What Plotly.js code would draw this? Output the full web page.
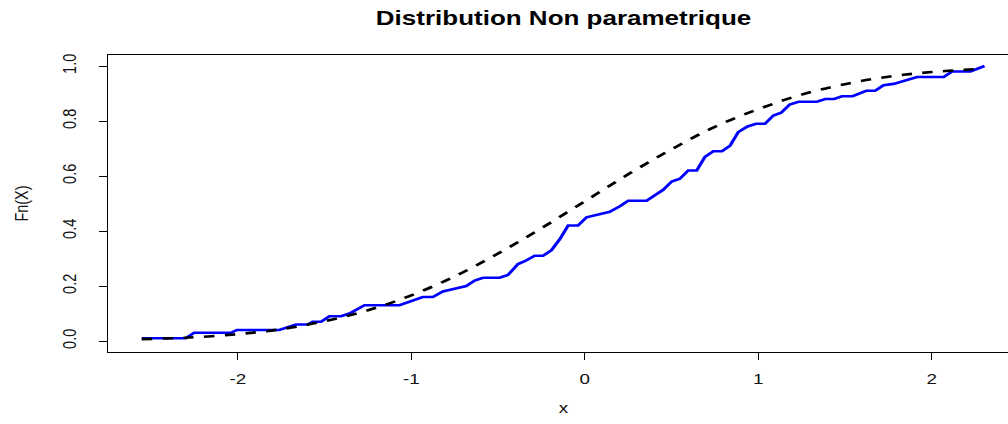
<!DOCTYPE html>
<html>
<head>
<meta charset="utf-8">
<script src="https://cdn.plot.ly/plotly-3.0.1.min.js"></script>
<style>
  html, body { margin: 0; padding: 0; overflow: hidden; background: #fff; width: 1008px; height: 424px; }
  #chart { width: 792px; height: 424px; transform: scaleX(1.3); transform-origin: 0 0; }
</style>
</head>
<body>
<div id="chart"></div>
<script>
const ecdfX = [-2.554,-2.300,-2.252,-2.040,-2.005,-1.761,-1.665,-1.598,-1.569,-1.520,-1.472,-1.405,-1.357,-1.328,-1.270,-1.068,-0.982,-0.934,-0.876,-0.818,-0.751,-0.683,-0.635,-0.587,-0.491,-0.443,-0.385,-0.346,-0.289,-0.241,-0.192,-0.144,-0.096,-0.039,0.010,0.087,0.144,0.202,0.250,0.356,0.404,0.452,0.501,0.548,0.596,0.645,0.693,0.741,0.791,0.837,0.885,0.938,0.987,1.039,1.087,1.132,1.181,1.232,1.338,1.386,1.438,1.482,1.544,1.622,1.674,1.722,1.780,1.915,2.069,2.117,2.223,2.304];
const ecdfY = [0.01,0.01,0.03,0.03,0.04,0.04,0.06,0.06,0.07,0.07,0.09,0.09,0.10,0.11,0.13,0.13,0.15,0.16,0.16,0.18,0.19,0.20,0.22,0.23,0.23,0.24,0.28,0.29,0.31,0.31,0.33,0.37,0.42,0.42,0.45,0.46,0.47,0.49,0.51,0.51,0.53,0.55,0.58,0.59,0.62,0.62,0.67,0.69,0.69,0.71,0.76,0.78,0.79,0.79,0.82,0.83,0.86,0.87,0.87,0.88,0.88,0.89,0.89,0.91,0.91,0.93,0.935,0.96,0.96,0.98,0.98,1.0];

// Theoretical distribution (black dashed)
const theoX = [-2.554,-2.3,-2.0,-1.75,-1.5,-1.25,-1.0,-0.75,-0.5,-0.25,0,0.25,0.5,0.75,1.0,1.25,1.5,1.75,2.0,2.304];
const theoY = [0.007,0.012,0.025,0.043,0.072,0.112,0.166,0.235,0.318,0.410,0.508,0.606,0.697,0.779,0.843,0.896,0.934,0.961,0.978,0.990];

// Tick labels
const xTicks = [-2,-1,0,1,2];
const xTickText = ['-2','-1','0','1','2'];
const yTicks = [0,0.2,0.4,0.6,0.8,1.0];
const yTickText = ['0.0','0.2','0.4','0.6','0.8','1.0'];

const FONT = 'Liberation Sans, Arial, sans-serif';

const traces = [
  {
    x: ecdfX, y: ecdfY, type: 'scatter', mode: 'lines',
    line: {color: '#0000FF', width: 2.6},
    hoverinfo: 'skip', showlegend: false
  },
  {
    x: theoX, y: theoY, type: 'scatter', mode: 'lines',
    line: {color: '#000000', width: 2.6, dash: '8px,8px', shape: 'spline', smoothing: 1},
    hoverinfo: 'skip', showlegend: false
  }
];

const layout = {
  width: 792, height: 424,
  margin: {l: 83, r: 8, t: 55, b: 72, pad: 0},
  paper_bgcolor: '#fff', plot_bgcolor: '#fff',
  font: {family: FONT, size: 14.5, color: '#111'},
  title: {
    text: 'Distribution Non parametrique',
    font: {family: FONT, size: 20, color: '#000', weight: 700},
    xref: 'paper', x: 0.5, xanchor: 'center',
    yref: 'container', y: 0.958, yanchor: 'middle'
  },
  xaxis: {
    range: [-2.749, 2.504], autorange: false,
    tickvals: xTicks, ticktext: xTickText,
    ticks: 'outside', ticklen: 7, tickwidth: 1, tickcolor: '#000',
    showline: true, mirror: true, linecolor: '#000', linewidth: 1,
    showgrid: false, zeroline: false,
    tickfont: {family: FONT, size: 14.5, color: '#111'},
    ticklabelstandoff: 7,
    title: {text: 'x', font: {family: FONT, size: 14.5, color: '#111'}, standoff: 16}
  },
  yaxis: {
    range: [-0.04, 1.04], autorange: false,
    tickvals: yTicks, ticktext: yTickText,
    ticks: 'outside', ticklen: 6, tickwidth: 1, tickcolor: '#000',
    showline: true, mirror: true, linecolor: '#000', linewidth: 1,
    showgrid: false, zeroline: false,
    tickangle: -90,
    tickfont: {family: FONT, size: 14.5, color: '#111'},
    ticklabelstandoff: 12,
    title: {text: 'Fn(X)', font: {family: FONT, size: 14.5, color: '#111'}, standoff: 19}
  }
};

Plotly.newPlot('chart', traces, layout, {staticPlot: true, displayModeBar: false});
</script>
</body>
</html>
